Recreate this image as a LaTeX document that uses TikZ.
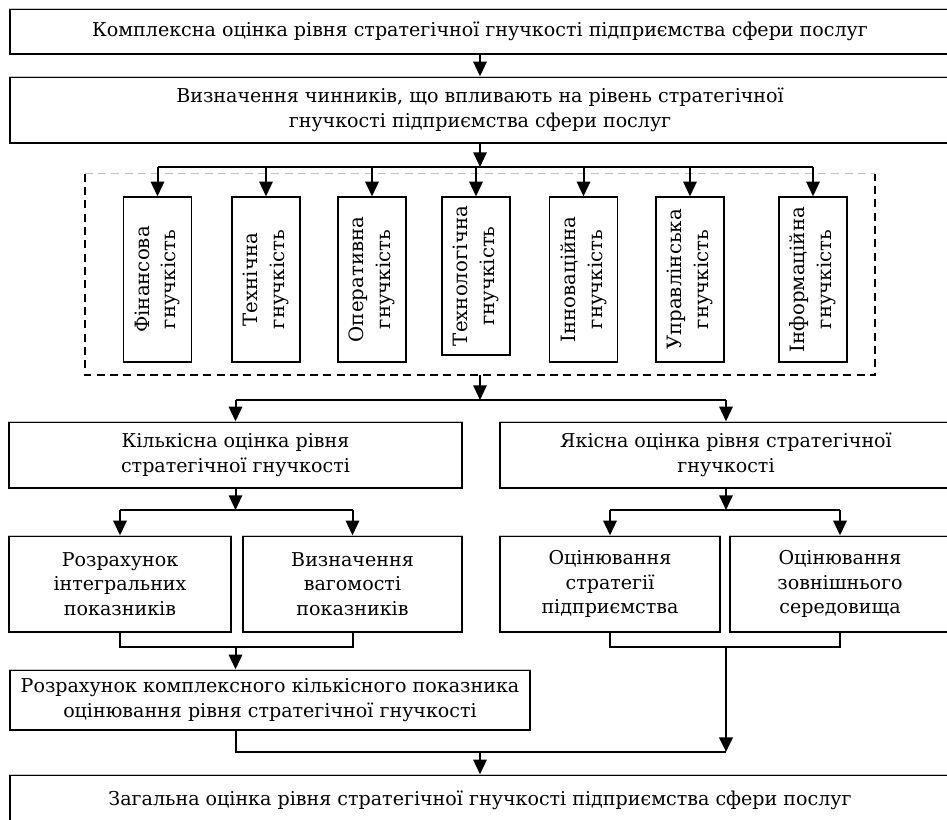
\documentclass[tikz,border=0pt]{standalone}
\usepackage{fontspec}
\setmainfont{DejaVu Serif}
\usetikzlibrary{arrows.meta}

\tikzset{
  box/.style={draw, line width=1pt, inner sep=2pt, align=center, fill=white,
    font=\fontsize{14.3}{18.5}\selectfont},
  factor/.style={box, rotate=90, minimum height=51pt,
    font=\fontsize{14.8}{20}\selectfont},
  topedge/.style={draw=gray!45, line width=1pt},
  frame/.style={line width=1.2pt, dash pattern=on 6pt off 4pt},
  link/.style={line width=1.5pt},
  arr/.style={link, -{Triangle[length=11pt,width=10pt]}},
}

\begin{document}
\begin{tikzpicture}[x=0.75pt,y=-0.75pt]
\useasboundingbox (0,0) rectangle (947,819);
\clip (0,0) rectangle (947,819);

\node[box, minimum width=705pt, minimum height=33.75pt] (kompleks) at (480,31.5)
  {Комплексна оцінка рівня стратегічної гнучкості підприємства сфери послуг};
\node[box, minimum width=705pt, minimum height=49.5pt] (chynnyky) at (480,110)
  {Визначення чинників, що впливають на рівень стратегічної\\гнучкості підприємства сфери послуг};

% рамка з чинниками
\node[minimum width=592.5pt, minimum height=150.75pt] (grupa) at (480,274.5) {};
\draw[frame] (grupa.north west) -- (grupa.south west) -- (grupa.south east) -- (grupa.north east);
\draw[frame, draw=gray!50, line width=0.8pt] (grupa.north west) -- (grupa.north east);

\foreach \name/\xpos/\len/\txt in {
    fin/157.5/165/{Фінансова\\гнучкість},
    teh/266/165/{Технічна\\гнучкість},
    oper/372/165/{Оперативна\\гнучкість},
    tehn/476/158/{Технологічна\\гнучкість},
    inn/583.5/165/{Інноваційна\\гнучкість},
    upr/690/165/{Управлінська\\гнучкість},
    inf/813/165/{Інформаційна\\гнучкість}}{
  \node[factor, minimum width=\len*0.75pt] (\name) at (\xpos,{197+\len/2}) {\txt};
}

\node[box, minimum width=339.75pt, minimum height=49.5pt] (kilk) at (235.5,455)
  {Кількісна оцінка рівня\\стратегічної гнучкості};
\node[box, minimum width=339pt, minimum height=49.5pt] (yak) at (726,455)
  {Якісна оцінка рівня стратегічної\\гнучкості};

\node[box, minimum width=166.5pt, minimum height=72pt] (roz) at (120,584)
  {Розрахунок\\інтегральних\\показників};
\node[box, minimum width=164.25pt, minimum height=72pt] (vyz) at (352.5,584)
  {Визначення\\вагомості\\показників};
\node[box, minimum width=165pt, minimum height=72pt] (stra) at (610,584)
  {Оцінювання\\стратегії\\підприємства};
\node[box, minimum width=165pt, minimum height=72pt] (sered) at (840,584)
  {Оцінювання\\зовнішнього\\середовища};

\node[box, minimum width=390pt, minimum height=45pt] (kompl) at (270,700)
  {Розрахунок комплексного кількісного показника\\оцінювання рівня стратегічної гнучкості};
\node[box, minimum width=705pt, minimum height=37.5pt] (zag) at (480,800)
  {Загальна оцінка рівня стратегічної гнучкості підприємства сфери послуг};

% сірі верхні краї
\foreach \name in {kompleks,chynnyky,kilk,yak,roz,vyz,stra,sered,kompl,zag}
  \draw[topedge] (\name.north west) -- (\name.north east);

% шини
\coordinate (shyna1) at (480,167);
\coordinate (shyna2) at (480,400);
\coordinate (shyna3) at (235.5,510);
\coordinate (shyna4) at (726,510);
\coordinate (zbir1) at (235.5,647);
\coordinate (zbir2) at (726,647);
\coordinate (zbir3) at (480,752);

\draw[arr] (kompleks.south) -- (chynnyky.north);
\draw[arr] (chynnyky.south) -- (shyna1);
\draw[link] (fin.east |- shyna1) -- (inf.east |- shyna1);
\foreach \name in {fin,teh,oper,tehn,inn,upr,inf}
  \draw[arr] (\name.east |- shyna1) -- (\name.east);

\draw[arr] (grupa.south) -- (shyna2);
\draw[link] (kilk.north |- shyna2) -- (yak.north |- shyna2);
\draw[arr] (kilk.north |- shyna2) -- (kilk.north);
\draw[arr] (yak.north |- shyna2) -- (yak.north);

\draw[arr] (kilk.south) -- (shyna3);
\draw[link] (roz.north |- shyna3) -- (vyz.north |- shyna3);
\draw[arr] (roz.north |- shyna3) -- (roz.north);
\draw[arr] (vyz.north |- shyna3) -- (vyz.north);
\draw[arr] (yak.south) -- (shyna4);
\draw[link] (stra.north |- shyna4) -- (sered.north |- shyna4);
\draw[arr] (stra.north |- shyna4) -- (stra.north);
\draw[arr] (sered.north |- shyna4) -- (sered.north);

\draw[link] (roz.south) |- (zbir1) -| (vyz.south);
\draw[arr] (zbir1) -- (zbir1 |- kompl.north);
\draw[link] (stra.south) |- (zbir2) -| (sered.south);
\draw[arr, line width=2.2pt] (zbir2) -- (zbir2 |- zbir3);
\draw[link] (zbir1 |- kompl.south) |- (zbir2 |- zbir3);
\draw[arr] (zbir3) -- (zag.north);
\end{tikzpicture}
\end{document}
